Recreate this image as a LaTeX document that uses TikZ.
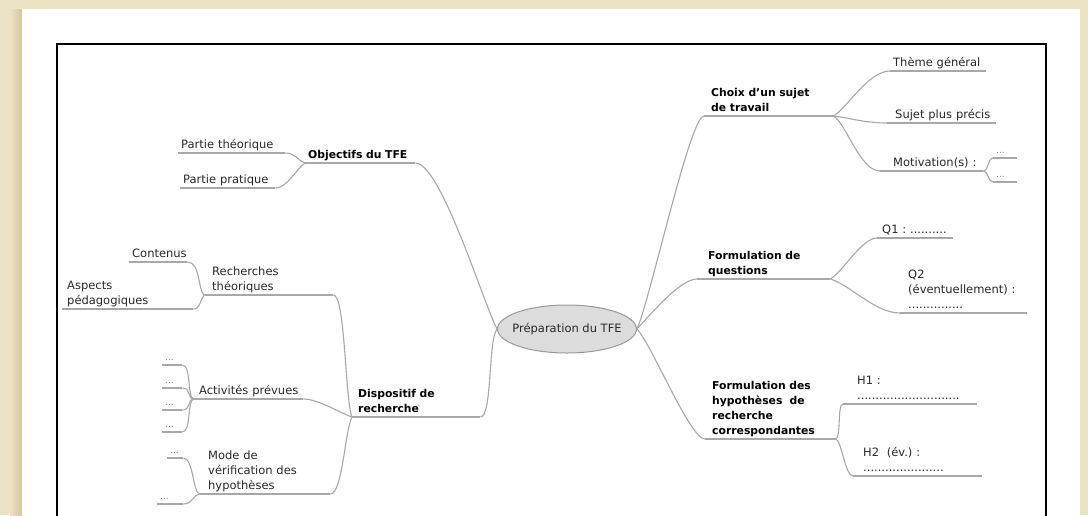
\documentclass[tikz,border=0pt]{standalone}
\usepackage{fontspec}
\setmainfont{DejaVu Sans}
\usetikzlibrary{shapes.geometric}
\hyphenpenalty=10000
\exhyphenpenalty=10000

\definecolor{papier}{RGB}{236,226,196}
\definecolor{ombre}{RGB}{212,198,158}
\definecolor{trait}{RGB}{168,168,168}
\definecolor{texte}{RGB}{40,40,40}
\definecolor{bulle}{RGB}{220,220,220}

\tikzset{
    lien/.style={draw=trait, line width=1.1pt},
    branche/.style={anchor=south west, inner xsep=3pt, inner ysep=2pt,
        align=left, text width=#1, text=texte,
        execute at end node={\rule[-2.5pt]{0pt}{2.5pt}},
        font=\fontsize{11.5}{15}\selectfont},
    titre/.style={branche=#1, text=black,
        font=\fontsize{10.8}{15}\selectfont\bfseries},
    points/.style={branche=#1, text=gray, font=\fontsize{9}{11}\selectfont}
}

\begin{document}
\begin{tikzpicture}[x=1pt, y=-1pt]
    % Fond et feuille
    \useasboundingbox (0,0) rectangle (1088,515);
    \fill[papier] (0,0) rectangle (1088,515);
    \shade[left color=papier, right color=ombre] (10,9) rectangle (22,515);
    \fill[white] (22,9) rectangle (1080,515);
    \draw[black, line width=2pt] (57,530) -- (57,44) -- (1046,44) -- (1046,530);

    % Centre
    \node[ellipse, draw=gray!80, fill=bulle, line width=1pt,
        inner xsep=-6pt, minimum width=139pt, minimum height=48pt,
        text=texte, font=\fontsize{11.5}{14}\selectfont]
        (tfe) at (567,329) {Préparation du TFE};

    % Objectifs du TFE
    \node[titre=104pt] (obj) at (305,163) {Objectifs du TFE};
    \node[branche=101pt] (theo) at (178,153) {Partie théorique};
    \node[branche=89pt] (prat) at (180,188) {Partie pratique};

    % Dispositif de recherche
    \node[titre=116pt, inner xsep=6pt] (disp) at (352,417) {Dispositif de\\recherche};
    \node[branche=113pt, inner xsep=8pt] (rech) at (204,295) {Recherches\\théoriques};
    \node[branche=52pt] (cont) at (129,262) {Contenus};
    \node[branche=121pt, inner xsep=5pt] (asp) at (62,309) {Aspects\\pédagogiques};
    \node[branche=99pt, inner xsep=5pt] (act) at (194,399) {Activités~prévues};
    \node[points=14pt] (a1) at (162,365) {...};
    \node[points=14pt] (a2) at (162,388) {...};
    \node[points=14pt] (a3) at (162,410) {...};
    \node[points=14pt] (a4) at (162,432) {...};
    \node[branche=114pt, inner xsep=8pt] (mode) at (200,494) {Mode de\\vérification des\\hypothèses};
    \node[points=10pt] (m1) at (167,458) {...};
    \node[points=20pt] (m2) at (157,504) {...};

    % Choix d'un sujet
    \node[titre=115pt, inner xsep=7pt] (choix) at (704,116) {Choix d’un sujet\\de travail};
    \node[branche=90pt] (theme) at (890,71) {Thème général};
    \node[branche=93pt, inner xsep=8pt] (sujet) at (887,123) {Sujet~plus~précis};
    \node[branche=77pt, inner xsep=13pt] (motiv) at (880,171) {Motivation(s)~:};
    \node[points=18pt] (md1) at (993,158) {...};
    \node[points=18pt] (md2) at (993,182) {...};

    % Questions
    \node[titre=111pt, inner xsep=11pt] (quest) at (697,279) {Formulation de\\questions};
    \node[branche=66pt, inner xsep=5pt] (q1) at (877,238) {Q1~:~..........};
    \node[branche=111pt, inner xsep=8pt] (q2) at (900,313) {Q2\\(éventuellement)~:\\...............};

    % Hypotheses
    \node[titre=116pt, inner xsep=7pt] (hyp) at (705,439) {Formulation des\\hypothèses~ de\\recherche\\correspondantes};
    \node[branche=106pt, inner xsep=14pt] (h1) at (843,404) {H1 :\\............................};
    \node[branche=109pt, inner xsep=10pt] (h2) at (853,476) {H2~ (év.)~:\\......................};

    % Soulignements
    \foreach \n in {obj,theo,prat,disp,rech,cont,asp,act,a1,a2,a3,a4,mode,m1,m2,
        choix,theme,sujet,motiv,md1,md2,quest,q1,q2,hyp,h1,h2}
        \draw[lien] (\n.south west) -- (\n.south east);

    % Liens a gauche
    \draw[lien] (tfe.west) .. controls +(-15,-30) and +(25,0) .. (obj.south east);
    \draw[lien] (tfe.west) .. controls +(-9,11) and +(12,0) .. (disp.south east);
    \draw[lien] (obj.south west) .. controls +(-8,-3) and +(10,0) .. (theo.south east);
    \draw[lien] (obj.south west) .. controls +(-8,5) and +(12,0) .. (prat.south east);
    \draw[lien] (disp.south west) .. controls +(-7,-17) and +(12,0) .. (rech.south east);
    \draw[lien] (disp.south west) .. controls +(-10,-3) and +(15,0) .. (act.south east);
    \draw[lien] (disp.south west) .. controls +(-7,13) and +(12,0) .. (mode.south east);
    \draw[lien] (rech.south west) .. controls +(-6,-5) and +(13,0) .. (cont.south east);
    \draw[lien] (rech.south west) .. controls +(-4,5) and +(7,0) .. (asp.south east);
    \foreach \i in {1,...,4}
        \draw[lien] (act.south west) .. controls +(-7,0) and +(9,0) .. (a\i.south east);
    \foreach \i in {1,2}
        \draw[lien] (mode.south west) .. controls +(-7,0) and +(10,0) .. (m\i.south east);

    % Liens a droite
    \draw[lien] (tfe.east) .. controls +(13,-29) and +(-14,0) .. (choix.south west);
    \draw[lien] (tfe.east) .. controls +(13,-14) and +(-17,0) .. (quest.south west);
    \draw[lien] (tfe.east) .. controls +(15,16) and +(-15,0) .. (hyp.south west);
    \draw[lien] (choix.south east) .. controls +(12,-6) and +(-22,0) .. (theme.south west);
    \draw[lien] (choix.south east) .. controls +(17,2) and +(-22,0) .. (sujet.south west);
    \draw[lien] (choix.south east) .. controls +(12,6) and +(-20,0) .. (motiv.south west);
    \draw[lien] (motiv.south east) .. controls +(5,0) and +(-5,0) .. (md1.south west);
    \draw[lien] (motiv.south east) .. controls +(5,0) and +(-5,0) .. (md2.south west);
    \draw[lien] (quest.south east) .. controls +(12,-7) and +(-15,0) .. (q1.south west);
    \draw[lien] (quest.south east) .. controls +(20,6) and +(-25,0) .. (q2.south west);
    \draw[lien] (hyp.south east) .. controls +(6,0) and +(-6,0) .. (h1.south west);
    \draw[lien] (hyp.south east) .. controls +(6,0) and +(-8,0) .. (h2.south west);
\end{tikzpicture}
\end{document}
